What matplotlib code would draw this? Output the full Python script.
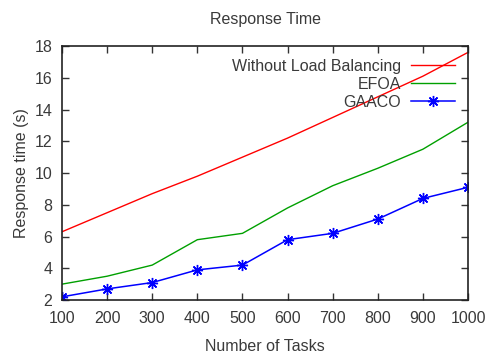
import matplotlib
matplotlib.use("Agg")
import matplotlib.pyplot as plt

plt.rcParams['font.family'] = ['Liberation Sans', 'DejaVu Sans']

tasks = [100, 200, 300, 400, 500, 600, 700, 800, 900, 1000]
no_lb = [6.3, 7.5, 8.7, 9.8, 11.0, 12.2, 13.5, 14.8, 16.1, 17.6]
efoa = [3.0, 3.5, 4.2, 5.8, 6.2, 7.8, 9.2, 10.3, 11.5, 13.2]
gaaco = [2.2, 2.7, 3.1, 3.9, 4.2, 5.8, 6.2, 7.1, 8.4, 9.1]

txt = '#3a3a3a'
fig = plt.figure(figsize=(4.86, 3.54), dpi=100)
ax = fig.add_axes([0.1276, 0.1525, 0.8354, 0.7175])

ax.plot(tasks, no_lb, color='#ff0000', lw=1, label='Without Load Balancing')
ax.plot(tasks, efoa, color='#00a000', lw=1, label='EFOA')
ax.plot(tasks, gaaco, color='#0000ff', lw=1.1, marker=(8, 2, 0), ms=8,
        mew=1, label='GAACO')

ax.set_xlim(100, 1000)
ax.set_ylim(2, 18)
ax.set_xticks(tasks)
ax.set_yticks(range(2, 19, 2))
ax.tick_params(direction='in', top=True, right=True, length=5, width=1,
               labelsize=11.5, colors='#333333', labelcolor=txt)
ax.tick_params(axis='x', pad=8)
ax.tick_params(axis='y', pad=7)
for s in ax.spines.values():
    s.set_linewidth(1.2)
    s.set_color('#222222')

ax.set_title('Response Time', fontsize=11.5, color=txt, pad=16)
ax.set_xlabel('Number of Tasks', fontsize=11.5, color=txt, labelpad=9)
ax.set_ylabel('Response time (s)', fontsize=11.5, color=txt, labelpad=4)

leg = ax.legend(loc='upper right', frameon=False, markerfirst=False,
                fontsize=11.5, handlelength=2.8, borderaxespad=0.6,
                borderpad=0.2, labelspacing=0.18, handletextpad=0.6)
for t in leg.get_texts():
    t.set_color(txt)

fig.savefig('out.png', dpi=100)
